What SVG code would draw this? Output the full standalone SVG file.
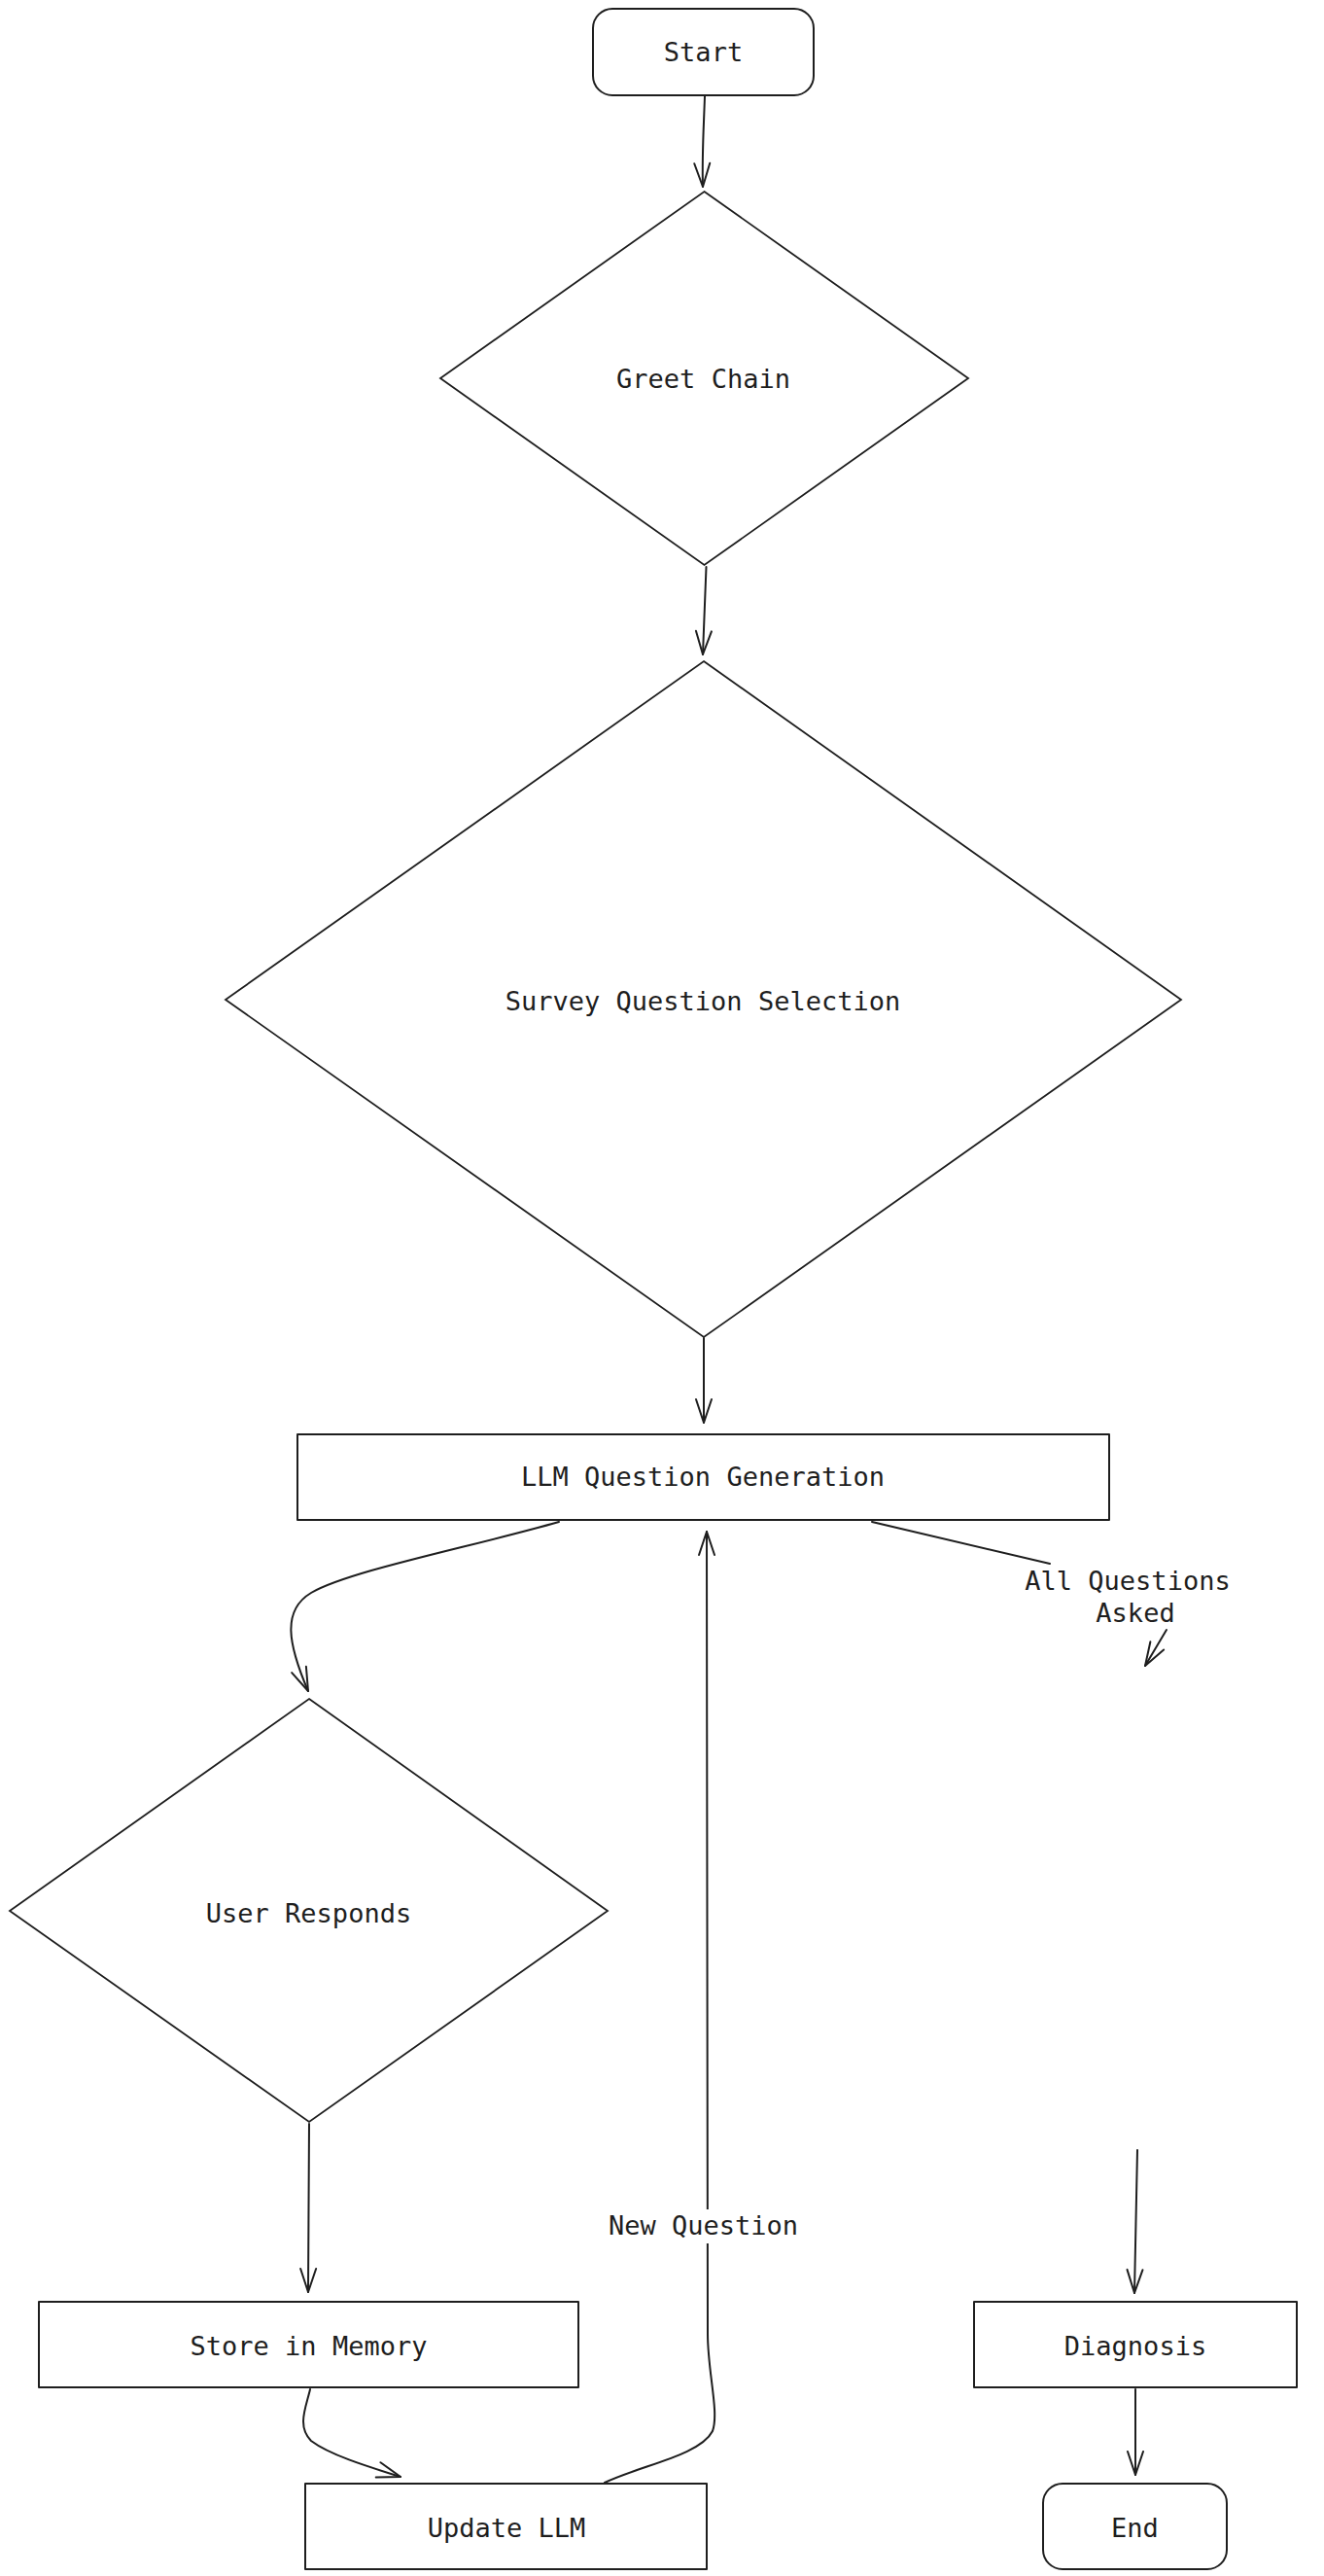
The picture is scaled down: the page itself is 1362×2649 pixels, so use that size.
<svg xmlns="http://www.w3.org/2000/svg" width="1362" height="2649" viewBox="0 0 1362 2649">
<defs>
<style>
.shape{fill:#ffffff;stroke:#1e1e1e;stroke-width:2;stroke-linejoin:round}
.dia{fill:#ffffff;stroke:#1e1e1e;stroke-width:1.8;stroke-linejoin:miter}
.edge{fill:none;stroke:#1e1e1e;stroke-width:2;stroke-linecap:round}
.lbl{font-family:"DejaVu Sans Mono","Liberation Mono",monospace;font-size:27px;fill:#1e1e1e;text-anchor:middle}
</style>
<marker id="arr" viewBox="-26 -10 28 20" refX="0" refY="0" markerWidth="28" markerHeight="20" markerUnits="userSpaceOnUse" orient="auto">
<path d="M-24,-8 L0,0 L-24,8" fill="none" stroke="#1e1e1e" stroke-width="2" stroke-linecap="round" stroke-linejoin="round"/>
</marker>
</defs>
<rect width="1362" height="2649" fill="#ffffff"/>

<g id="connectors">
<path class="edge" d="M725,99 C724,130 722,160 723,192" marker-end="url(#arr)"/>
<path class="edge" d="M726.5,583 L723,673" marker-end="url(#arr)"/>
<path class="edge" d="M724,1376 L724,1463" marker-end="url(#arr)"/>
<path class="edge" d="M575,1565 C480,1592 360,1615 320,1638 C290,1656 296,1690 317,1739" marker-end="url(#arr)"/>
<path class="edge" d="M318,2184 L317,2357" marker-end="url(#arr)"/>
<path class="edge" d="M319,2457 C315,2475 305,2495 320,2510 C340,2525 380,2537 412,2547" marker-end="url(#arr)"/>
<path class="edge" d="M622,2553 C660,2535 720,2525 733,2500 C740,2480 728,2440 728,2400 L727,1575" marker-end="url(#arr)"/>
<path class="edge" d="M897,1565 L1080,1608"/>
<path class="edge" d="M1200,1676 L1178,1713" marker-end="url(#arr)"/>
<path class="edge" d="M1170,2211 L1167,2358" marker-end="url(#arr)"/>
<path class="edge" d="M1168,2457 L1168,2545" marker-end="url(#arr)"/>
<rect x="620" y="2272" width="206" height="35" fill="#ffffff"/>
<text class="lbl" x="723.5" y="2298">New Question</text>
<text class="lbl" x="1160" y="1635">All Questions</text>
<text class="lbl" x="1168" y="1668">Asked</text>
</g>

<g id="start">
<rect class="shape" x="610" y="9" width="227" height="89" rx="20" ry="20"/>
<text class="lbl" x="723.5" y="63">Start</text>
</g>

<g id="greet">
<polygon class="dia" points="724.5,197 996,389 724.5,581 453,389"/>
<text class="lbl" x="723.5" y="399">Greet Chain</text>
</g>

<g id="survey">
<polygon class="dia" points="724,680 1215,1028 724,1375 232,1028"/>
<text class="lbl" x="723" y="1039">Survey Question Selection</text>
</g>

<g id="llmgen">
<rect class="shape" x="306" y="1475" width="835" height="88"/>
<text class="lbl" x="723" y="1528">LLM Question Generation</text>
</g>

<g id="user">
<polygon class="dia" points="318,1747 625,1965 318,2182 10,1965"/>
<text class="lbl" x="317.5" y="1977">User Responds</text>
</g>

<g id="store">
<rect class="shape" x="40" y="2367" width="555" height="88"/>
<text class="lbl" x="317.5" y="2422">Store in Memory</text>
</g>

<g id="update">
<rect class="shape" x="314" y="2554" width="413" height="88"/>
<text class="lbl" x="521" y="2609">Update LLM</text>
</g>

<g id="diagnosis">
<rect class="shape" x="1002" y="2367" width="332" height="88"/>
<text class="lbl" x="1168" y="2422">Diagnosis</text>
</g>

<g id="end">
<rect class="shape" x="1073" y="2554" width="189" height="88" rx="20" ry="20"/>
<text class="lbl" x="1167.5" y="2609">End</text>
</g>
</svg>
